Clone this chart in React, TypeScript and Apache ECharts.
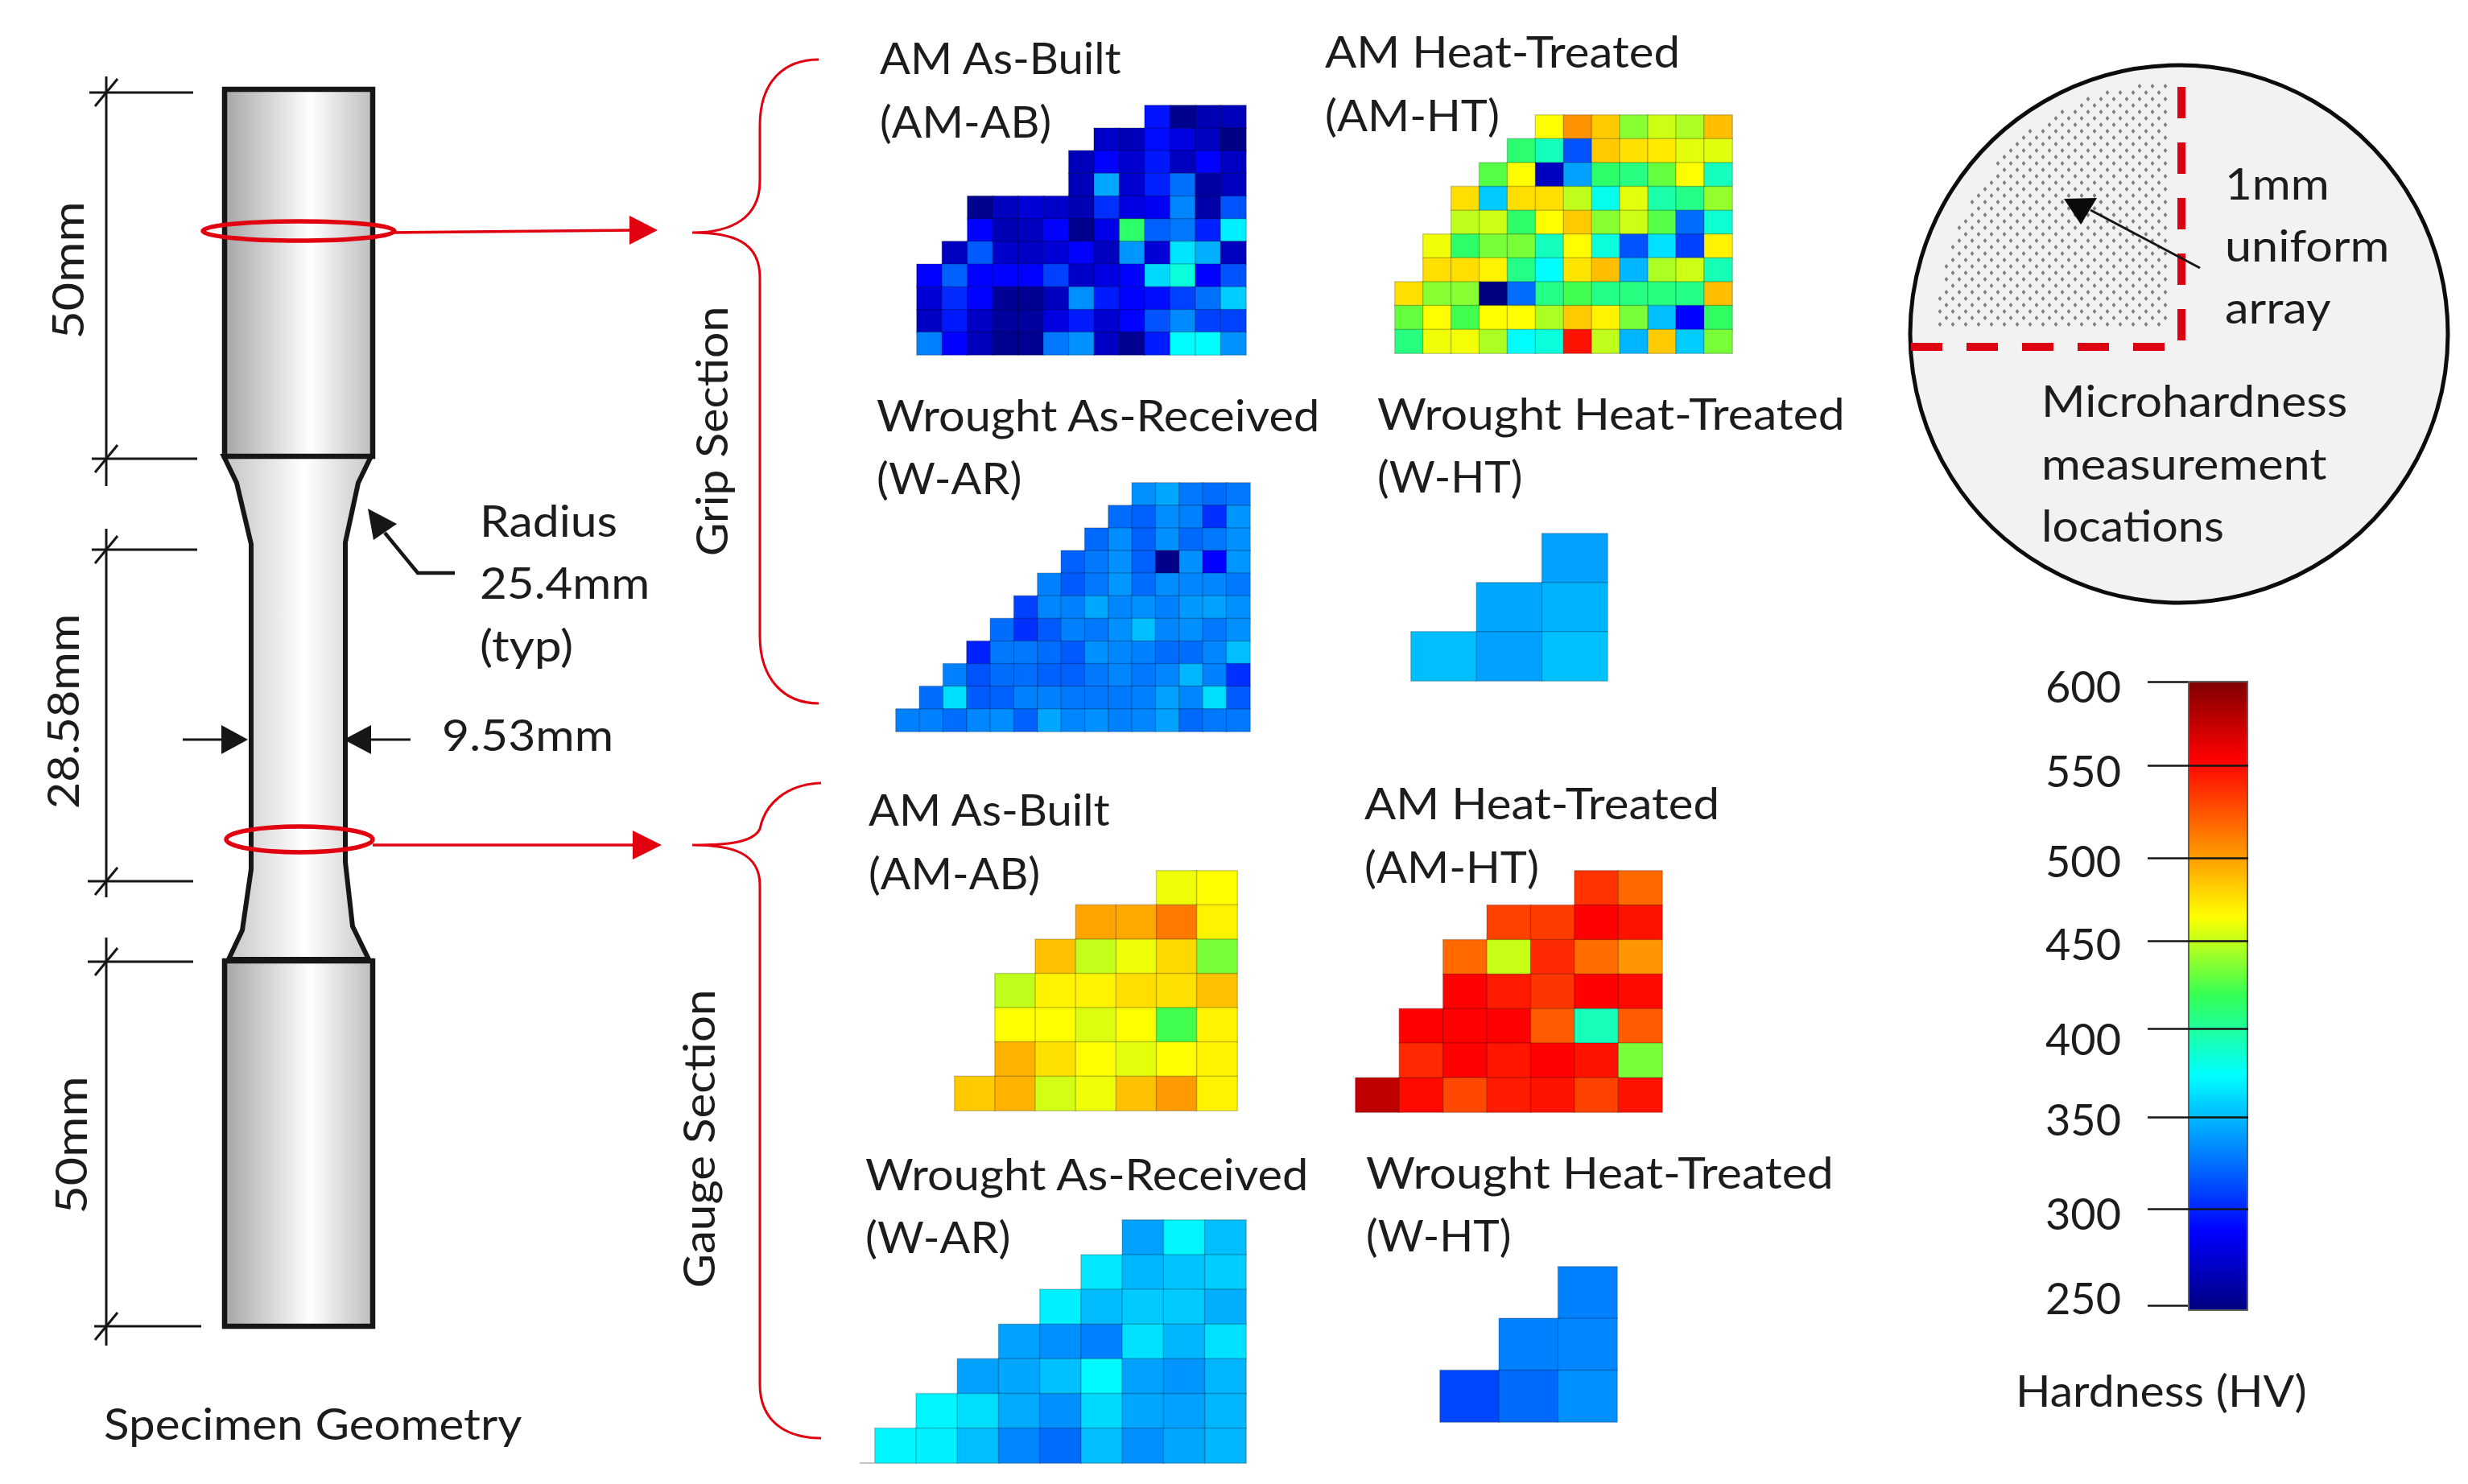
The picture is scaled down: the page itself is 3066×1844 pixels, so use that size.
import React, { useEffect, useRef } from "react";
import * as echarts from "echarts";

// ---- colour scale ----
const hardnessMin = 250;
const hardnessMax = 600;
const jetColors = ["#00007f", "#0000ff", "#0080ff", "#00ffff", "#33ff55", "#ffff00", "#ff7f00", "#ff0000", "#7f0000"];
const colorbarLabels = [600, 550, 500, 450, 400, 350, 300, 250];
const colorbarLabelPositions = [597.3, 550.3, 500, 454, 401.2, 356.5, 303.9, 257.1];
const colorbarTickPositions = [599.6, 553, 501.5, 455.4, 406.6, 357.4, 306.4, 252.6];

// ---- hardness maps (HV), top row first; each row is right-aligned ----
const gripAmAb = [
  [300, 255, 268, 270],
  [276, 270, 298, 283, 272, 252],
  [270, 294, 278, 302, 272, 294, 274],
  [270, 351, 278, 305, 332, 262, 272],
  [255, 272, 280, 276, 268, 310, 284, 290, 340, 264, 322],
  [294, 268, 272, 294, 255, 286, 420, 327, 335, 305, 376],
  [272, 325, 276, 274, 280, 294, 272, 345, 280, 372, 354, 272],
  [294, 327, 294, 294, 294, 316, 276, 284, 294, 368, 390, 294, 322],
  [280, 308, 294, 258, 256, 272, 343, 303, 294, 298, 316, 332, 364],
  [274, 302, 274, 260, 260, 284, 303, 278, 294, 322, 341, 316, 316],
  [338, 294, 270, 256, 256, 335, 344, 274, 256, 303, 381, 381, 344],
];
const gripAmHt = [
  [469, 506, 487, 443, 458, 451, 491],
  [418, 398, 322, 487, 479, 476, 463, 462],
  [432, 469, 272, 349, 420, 414, 436, 469, 398],
  [480, 363, 480, 480, 455, 386, 463, 403, 412, 446],
  [455, 458, 420, 469, 487, 443, 458, 432, 331, 393],
  [465, 420, 440, 440, 398, 469, 390, 322, 371, 316, 473],
  [480, 480, 473, 412, 381, 478, 491, 356, 451, 458, 400],
  [479, 443, 443, 250, 331, 412, 428, 412, 414, 414, 412, 491],
  [436, 469, 428, 469, 469, 451, 487, 473, 440, 359, 294, 422],
  [414, 465, 466, 451, 381, 390, 550, 455, 356, 487, 364, 440],
];
const gripWAr = [
  [343, 351, 335, 331, 335],
  [331, 327, 342, 338, 310, 345],
  [330, 342, 327, 343, 330, 335, 343],
  [327, 335, 343, 327, 254, 343, 294, 345],
  [338, 325, 335, 345, 331, 342, 340, 340, 335],
  [316, 340, 338, 351, 340, 343, 338, 346, 349, 343],
  [331, 310, 325, 338, 335, 343, 359, 340, 343, 335, 343],
  [305, 335, 335, 331, 325, 343, 340, 338, 331, 331, 340, 359],
  [338, 322, 331, 331, 327, 327, 335, 340, 335, 340, 356, 338, 310],
  [331, 370, 325, 327, 338, 338, 335, 335, 335, 338, 349, 340, 370, 325],
  [338, 338, 331, 340, 342, 327, 351, 340, 343, 338, 340, 349, 330, 335, 335],
];
const gripWHt = [[349], [351, 355], [359, 349, 360]];
const gaugeAmAb = [
  [465, 469],
  [500, 498, 515, 473],
  [490, 456, 465, 482, 440],
  [455, 473, 473, 480, 479, 490],
  [469, 469, 461, 469, 428, 473],
  [495, 479, 469, 463, 469, 473],
  [487, 495, 459, 465, 490, 503, 473],
];
const gaugeAmHt = [
  [539, 520],
  [534, 536, 556, 550],
  [520, 457, 542, 519, 505],
  [556, 547, 538, 556, 553],
  [556, 556, 556, 525, 399, 525],
  [542, 556, 549, 556, 550, 440],
  [578, 553, 531, 547, 550, 534, 550],
];
const gaugeWAr = [
  [349, 378, 359],
  [373, 356, 361, 364],
  [376, 358, 363, 363, 354],
  [349, 343, 338, 371, 356, 371],
  [349, 351, 360, 379, 349, 345, 356],
  [378, 370, 352, 343, 368, 351, 349, 356],
  [378, 376, 359, 340, 331, 359, 343, 351, 356],
];
const gaugeWHt = [[338], [338, 340], [318, 330, 343]];

// ---- layout of the panels ----
const panels = [
  { rows: gripAmAb, left: 1139, top: 131, width: 409, height: 310 },
  { rows: gripAmHt, left: 1733, top: 143, width: 419, height: 296 },
  { rows: gripWAr, left: 1113, top: 600, width: 440, height: 309 },
  { rows: gripWHt, left: 1753, top: 663, width: 244, height: 183 },
  { rows: gaugeAmAb, left: 1186, top: 1082, width: 351, height: 298 },
  { rows: gaugeAmHt, left: 1684, top: 1082, width: 381, height: 300 },
  { rows: gaugeWAr, left: 1087, top: 1516, width: 461, height: 302 },
  { rows: gaugeWHt, left: 1789, top: 1574, width: 220, height: 193 },
];

const FONT = "Lato";
const TEXT = "#1c1c1c";
const RED = "#e00010";
const INK = "#161616";

// text, x, y, horizontal stretch
const labelRows: [string, number, number, number][] = [
  ["AM As-Built", 1093, 71, 1.04], ["(AM-AB)", 1093, 150, 1.03],
  ["AM Heat-Treated", 1646, 63, 1.077], ["(AM-HT)", 1646, 142, 1.04],
  ["Wrought As-Received", 1089, 515, 1.068], ["(W-AR)", 1089, 593, 1.035],
  ["Wrought Heat-Treated", 1711, 513, 1.09], ["(W-HT)", 1711, 591, 1.02],
  ["AM As-Built", 1079, 1005, 1.04], ["(AM-AB)", 1079, 1084, 1.03],
  ["AM Heat-Treated", 1695, 997, 1.077], ["(AM-HT)", 1695, 1076, 1.04],
  ["Wrought As-Received", 1075, 1458, 1.068], ["(W-AR)", 1075, 1536, 1.035],
  ["Wrought Heat-Treated", 1697, 1456, 1.09], ["(W-HT)", 1697, 1534, 1.02],
  ["Radius", 596, 646, 1.09], ["25.4mm", 596, 723, 1.08], ["(typ)", 596, 801, 1.12],
  ["9.53mm", 549, 912, 1.09],
  ["Specimen Geometry", 129, 1768, 1.08],
  ["1mm", 2764, 227, 1.08], ["uniform", 2764, 304, 1.1], ["array", 2764, 381, 1.1],
  ["Microhardness", 2536, 497, 1.09], ["measurement", 2536, 575, 1.1], ["locations", 2536, 652, 1.065],
  ["Hardness (HV)", 2504, 1727, 1.057],
];
const rotatedLabels: [string, number, number, number][] = [
  ["Grip Section", 883, 536, 1.06],
  ["Gauge Section", 867, 1415, 1.08],
  ["50mm", 83, 336, 1.13],
  ["28.58mm", 77, 884, 1.07],
  ["50mm", 87, 1423, 1.13],
];

// ---- registered outlines ----
echarts.graphic.registerShape(
  "gripBrace",
  echarts.graphic.extendPath("M1017 74 C975 74 944 100 944 156 L944 225 C944 270 910 289 860 289 C910 289 944 300 944 345 L944 790 C944 845 975 874 1017 874", {})
);
echarts.graphic.registerShape(
  "gaugeBrace",
  echarts.graphic.extendPath("M1020 973 C975 975 950 1000 944 1030 C935 1048 900 1050 860 1050 C910 1050 944 1060 944 1100 L944 1720 C944 1765 975 1787 1020 1787", {})
);
function dotField() {
  const cx = 2694, cy = 407;
  let d = "";
  for (let row = 0; row * 8 < 305; row++) {
    const y = 403 - row * 8;
    const x0 = row % 2 ? 2690 : 2682;
    for (let col = 0; col * 16 < 290; col++) {
      const x = x0 - col * 16;
      const dx = (cx - x) / 287, dy = (cy - y) / 305;
      if (dx * dx + dy * dy < 1) d += `M${x} ${y - 3}l2.4 3l-2.4 3l-2.4 -3z`;
    }
  }
  return d;
}
echarts.graphic.registerShape("dotField", echarts.graphic.extendPath(dotField(), {}));

const line = (x1: number, y1: number, x2: number, y2: number, w = 3, stroke = INK, extra: any = {}) => ({
  type: "line", z: 20, shape: { x1, y1, x2, y2 }, style: { stroke, lineWidth: w, ...extra },
});
const tri = (pts: number[][], fill = INK) => ({
  type: "polygon", z: 21, shape: { points: pts }, style: { fill },
});
const dim = (yH: number, x1: number, x2: number) => [
  line(x1, yH, x2, yH, 3),
  line(118, yH + 17, 146, yH - 17, 3),
];

function buildGraphics() {
  const grip = new echarts.graphic.LinearGradient(0, 0, 1, 0, [
    { offset: 0, color: "#a6a6a6" }, { offset: 0.58, color: "#ffffff" }, { offset: 1, color: "#bdbdbd" },
  ]);
  const gauge = new echarts.graphic.LinearGradient(0, 0, 1, 0, [
    { offset: 0, color: "#c4c4c4" }, { offset: 0.55, color: "#ffffff" }, { offset: 1, color: "#c8c8c8" },
  ]);
  const els: any[] = [
    // specimen
    {
      type: "polygon", z: 10,
      shape: { points: [[278, 567], [294, 600], [312, 676], [312, 1080], [301, 1156], [284, 1192], [458, 1192], [438, 1151], [429, 1071], [429, 674], [445, 600], [461, 567]] },
      style: { fill: gauge, stroke: INK, lineWidth: 6 },
    },
    { type: "rect", z: 11, shape: { x: 279, y: 111, width: 184, height: 456 }, style: { fill: grip, stroke: INK, lineWidth: 6.5 } },
    { type: "rect", z: 11, shape: { x: 279, y: 1194, width: 184, height: 454 }, style: { fill: grip, stroke: INK, lineWidth: 6.5 } },
    // dimension lines
    line(132, 95, 132, 604), line(132, 657, 132, 1115), line(132, 1165, 132, 1672),
    ...dim(115, 111, 240), ...dim(570, 114, 245), ...dim(683, 114, 245), ...dim(1095, 109, 240), ...dim(1195, 109, 240), ...dim(1648, 117, 250),
    // width arrows
    line(227, 919, 280, 919, 3), tri([[275, 901], [308, 919], [275, 937]]),
    line(456, 919, 510, 919, 3), tri([[461, 901], [427, 919], [461, 937]]),
    // radius leader
    { type: "polyline", z: 20, shape: { points: [[478, 662], [519, 712], [565, 712]] }, style: { stroke: INK, lineWidth: 4.5, fill: "none" } },
    tri([[457, 632], [493, 651], [464, 671]]),
    // red markers
    { type: "ellipse", z: 22, shape: { cx: 371, cy: 287, rx: 119, ry: 12 }, style: { fill: "none", stroke: RED, lineWidth: 5.5 } },
    { type: "ellipse", z: 22, shape: { cx: 372, cy: 1043, rx: 91, ry: 16 }, style: { fill: "none", stroke: RED, lineWidth: 5.5 } },
    line(490, 289, 790, 286, 3.5, RED), tri([[782, 268], [817, 286], [782, 304]], RED),
    line(463, 1050, 790, 1050, 3.5, RED), tri([[786, 1032], [822, 1050], [786, 1068]], RED),
    { type: "gripBrace", z: 20, x: 0, y: 0, style: { fill: "none", stroke: RED, lineWidth: 3 } },
    { type: "gaugeBrace", z: 20, x: 0, y: 0, style: { fill: "none", stroke: RED, lineWidth: 3 } },
    // stray baseline under the lower wrought map
    line(1068, 1818, 1087, 1818, 2, "#c4c4c4"),
    // cross-section circle
    { type: "circle", z: 10, shape: { cx: 2707, cy: 415, r: 334 }, style: { fill: "#f2f2f2", stroke: "#0c0c0c", lineWidth: 5 } },
    { type: "dotField", z: 11, x: 0, y: 0, style: { fill: "#7d7d7d" } },
    line(2710, 423, 2710, 102, 10, "#dd0010", { lineDash: [39, 30] }),
    line(2689, 431, 2373, 431, 10, "#dd0010", { lineDash: [39, 30] }),
    line(2597, 261, 2733, 333, 3),
    tri([[2564, 247], [2605, 246], [2585, 279]], "#0a0a0a"),
  ];
  labelRows.forEach(([text, x, y, stretch]) => {
    els.push({
      type: "text", z: 30, x, y, scaleX: stretch,
      style: { text, fontFamily: FONT, fontSize: 54, fill: TEXT, align: "left", verticalAlign: "middle" },
    });
  });
  rotatedLabels.forEach(([text, x, y, stretch]) => {
    els.push({
      type: "text", z: 30, x, y, rotation: Math.PI / 2, scaleX: stretch,
      style: { text, fontFamily: FONT, fontSize: 54, fill: TEXT, align: "center", verticalAlign: "middle" },
    });
  });
  return els;
}

function buildOption() {
  const grids: any[] = [];
  const xAxes: any[] = [];
  const yAxes: any[] = [];
  const series: any[] = [];
  panels.forEach((p, i) => {
    const cols = p.rows[p.rows.length - 1].length;
    const data: number[][] = [];
    p.rows.forEach((row, r) => row.forEach((v, c) => data.push([cols - row.length + c, r, v])));
    grids.push({ left: p.left, top: p.top, width: p.width, height: p.height, show: false });
    xAxes.push({ type: "category", gridIndex: i, show: false, data: Array.from({ length: cols }, (_, k) => String(k)) });
    yAxes.push({ type: "category", gridIndex: i, show: false, inverse: true, data: p.rows.map((_, k) => String(k)) });
    series.push({
      type: "heatmap", xAxisIndex: i, yAxisIndex: i, data, silent: true, progressive: 0,
      itemStyle: { borderColor: "rgba(0,0,0,0.2)", borderWidth: 1.5 },
      emphasis: { disabled: true },
    });
  });

  const barIdx = panels.length;
  grids.push({ left: 2718, top: 846, width: 75, height: 782, show: false });
  xAxes.push({ type: "category", gridIndex: barIdx, show: false, data: ["HV"] });
  yAxes.push({
    type: "value", gridIndex: barIdx, min: hardnessMin, max: hardnessMax,
    splitLine: { show: false },
    axisLine: { show: false },
    axisTick: {
      show: true, length: 50, customValues: colorbarTickPositions,
      lineStyle: { color: INK, width: 2.5 },
    },
    axisLabel: {
      show: true, margin: 83, customValues: colorbarLabelPositions,
      fontFamily: FONT, fontSize: 54, color: TEXT,
      formatter: (v: number) => {
        const i = colorbarLabelPositions.findIndex((p) => Math.abs(p - v) < 0.01);
        return String(colorbarLabels[i]);
      },
    },
  });
  series.push({
    type: "bar", xAxisIndex: barIdx, yAxisIndex: barIdx, data: [hardnessMax], barWidth: "100%", silent: true,
    itemStyle: {
      borderColor: "#5f6060", borderWidth: 2,
      color: new echarts.graphic.LinearGradient(0, 1, 0, 0, jetColors.map((color, i) => ({ offset: i / (jetColors.length - 1), color }))),
    },
    markLine: {
      silent: true, symbol: "none", animation: false, label: { show: false },
      lineStyle: { color: INK, width: 2.5, type: "solid" },
      data: colorbarTickPositions.slice(1, -1).map((v) => ({ yAxis: v })),
    },
  });

  return {
    animation: false,
    backgroundColor: "#ffffff",
    grid: grids,
    xAxis: xAxes,
    yAxis: yAxes,
    visualMap: {
      type: "continuous", show: false, min: hardnessMin, max: hardnessMax, dimension: 2,
      seriesIndex: panels.map((_, i) => i),
      inRange: { color: jetColors },
    },
    series,
    graphic: { elements: buildGraphics() },
  };
}

export default function App() {
  const ref = useRef<HTMLDivElement>(null);
  useEffect(() => {
    document.body.style.margin = "0";
    const chart = echarts.init(ref.current!, undefined, { renderer: "svg" });
    chart.setOption(buildOption() as any);
    return () => chart.dispose();
  }, []);
  return <div ref={ref} style={{ width: 3066, height: 1844 }} />;
}
